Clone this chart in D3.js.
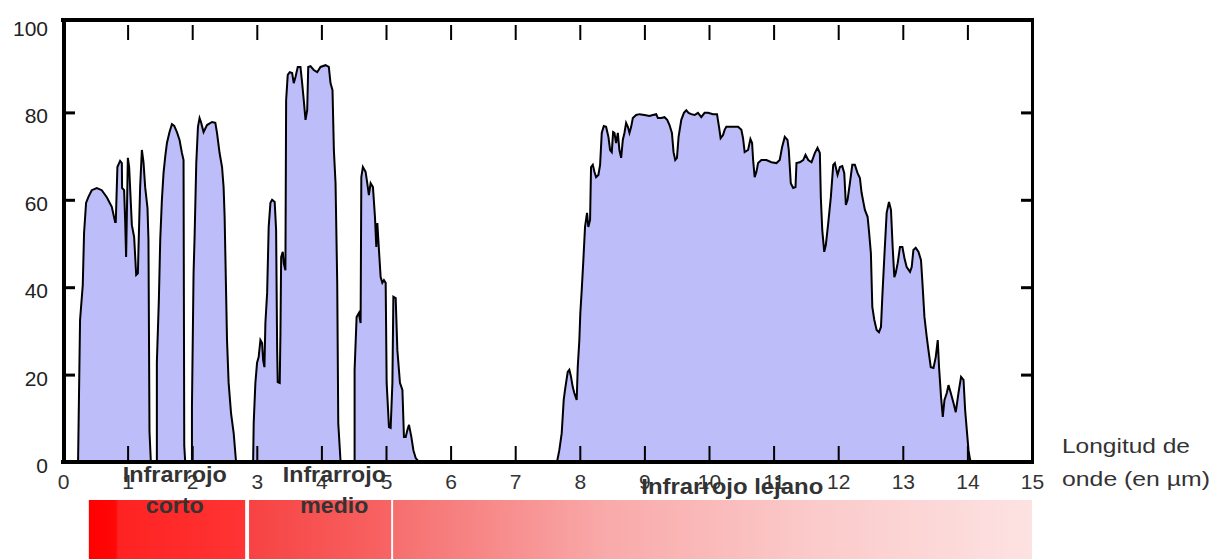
<!DOCTYPE html>
<html><head><meta charset="utf-8">
<script src="https://cdn.jsdelivr.net/npm/d3@7"></script>
<style>body{margin:0;background:#fff;overflow:hidden}svg{display:block}</style>
</head><body>
<svg id="chart" width="1221" height="559"></svg>
<script>
// Transmission bands: [wavelength µm, transmission %]
const band1 = [[0.233,0],[0.264,32.5],[0.306,40.5],[0.326,52.4],[0.357,59.3],[0.392,60.6],[0.445,62.2],[0.523,62.7],[0.600,62.2],[0.678,60.6],[0.755,58.4],[0.807,54.9],[0.817,54.9],[0.842,67.5],[0.884,68.9],[0.911,68.4],[0.915,62.7],[0.946,62.2],[0.962,55.4],[0.977,46.9],[1.004,69.6],[1.024,67.5],[1.039,62.7],[1.066,54.2],[1.101,51.5],[1.133,42.8],[1.159,43.2],[1.179,54.7],[1.194,62.9],[1.221,71.4],[1.246,68.6],[1.272,62.9],[1.308,58.1],[1.323,50.8],[1.339,6.9],[1.360,0]];
const band2 = [[1.453,0],[1.453,22.9],[1.484,37.1],[1.505,50.8],[1.531,60.0],[1.556,66.1],[1.582,69.8],[1.609,73.0],[1.649,75.5],[1.686,77.3],[1.722,76.9],[1.764,75.5],[1.804,73.7],[1.841,70.7],[1.866,69.1],[1.877,3.7],[1.892,0]];
const band3 = [[1.996,0],[1.996,12.4],[2.021,43.2],[2.037,51.5],[2.063,68.4],[2.089,76.7],[2.114,78.7],[2.136,77.8],[2.176,75.5],[2.229,77.1],[2.307,77.8],[2.358,77.6],[2.384,75.3],[2.424,70.7],[2.462,67.5],[2.486,62.9],[2.502,56.1],[2.539,27.9],[2.564,18.1],[2.601,11.2],[2.642,6.6],[2.679,0]];
const band4 = [[2.943,0],[2.952,8.9],[2.978,18.1],[3.004,22.7],[3.029,24.0],[3.056,27.9],[3.082,27.2],[3.098,23.3],[3.118,21.7],[3.133,31.8],[3.160,38.7],[3.184,53.8],[3.211,59.3],[3.237,60.0],[3.277,59.5],[3.299,53.1],[3.315,25.6],[3.324,18.3],[3.355,18.1],[3.366,29.5],[3.377,46.9],[3.402,48.1],[3.417,45.5],[3.443,43.9],[3.454,82.8],[3.479,88.6],[3.510,89.2],[3.547,89.0],[3.572,86.7],[3.599,88.1],[3.634,90.4],[3.676,90.4],[3.702,86.7],[3.727,82.8],[3.754,78.3],[3.780,80.5],[3.796,90.4],[3.831,90.6],[3.882,89.7],[3.935,89.2],[3.986,90.4],[4.064,90.8],[4.115,90.4],[4.141,86.7],[4.172,85.1],[4.193,71.4],[4.219,63.8],[4.245,40.9],[4.261,8.9],[4.297,0]];
const band5 = [[4.514,0],[4.514,21.1],[4.545,33.2],[4.580,34.1],[4.607,31.8],[4.618,65.2],[4.642,67.5],[4.684,66.4],[4.710,63.8],[4.735,61.1],[4.762,63.8],[4.798,62.9],[4.829,56.1],[4.850,49.2],[4.866,54.7],[4.891,48.5],[4.917,42.3],[4.943,41.0],[4.968,41.6],[4.995,41.0],[5.010,18.1],[5.046,8.0],[5.072,7.8],[5.099,18.1],[5.114,37.8],[5.150,37.5],[5.176,25.6],[5.216,18.1],[5.254,16.5],[5.278,5.7],[5.305,5.7],[5.331,7.3],[5.356,8.5],[5.393,5.7],[5.424,2.7],[5.460,0.9],[5.511,0]];
const band6 = [[7.647,0],[7.683,2.7],[7.720,6.6],[7.751,14.2],[7.771,16.5],[7.813,20.6],[7.838,21.1],[7.864,19.5],[7.890,17.2],[7.915,15.8],[7.952,14.2],[7.968,21.7],[7.993,27.9],[8.008,34.1],[8.030,39.4],[8.055,46.2],[8.081,53.8],[8.112,57.0],[8.132,53.8],[8.159,55.4],[8.174,67.5],[8.201,68.0],[8.226,66.4],[8.252,65.2],[8.288,65.7],[8.314,68.0],[8.340,75.3],[8.371,76.9],[8.407,76.7],[8.443,74.4],[8.469,71.4],[8.495,70.9],[8.516,75.5],[8.536,75.3],[8.562,73.0],[8.589,75.3],[8.613,71.4],[8.640,69.6],[8.666,73.7],[8.691,75.3],[8.717,77.6],[8.744,76.7],[8.769,75.3],[8.795,76.7],[8.821,78.7],[8.872,79.4],[8.924,79.6],[9.001,79.4],[9.079,79.2],[9.131,79.4],[9.183,79.6],[9.209,78.7],[9.260,78.7],[9.311,78.9],[9.353,78.3],[9.389,77.1],[9.426,75.3],[9.451,70.9],[9.477,69.1],[9.504,69.6],[9.529,74.4],[9.571,78.3],[9.612,79.9],[9.648,80.5],[9.684,79.9],[9.726,79.6],[9.777,79.4],[9.829,79.9],[9.880,78.9],[9.932,79.9],[9.985,79.9],[10.062,79.6],[10.124,79.6],[10.155,76.7],[10.180,74.1],[10.217,74.8],[10.242,76.0],[10.268,76.7],[10.320,76.7],[10.372,76.7],[10.450,76.7],[10.501,76.0],[10.527,74.1],[10.552,70.9],[10.605,71.4],[10.641,73.9],[10.667,73.0],[10.683,69.1],[10.707,65.2],[10.734,66.4],[10.760,68.4],[10.811,69.1],[10.889,69.1],[10.966,68.6],[11.044,68.4],[11.095,69.1],[11.132,72.1],[11.173,74.4],[11.215,73.7],[11.235,71.4],[11.266,63.8],[11.303,62.7],[11.339,62.9],[11.354,68.4],[11.405,68.6],[11.458,69.1],[11.494,70.3],[11.536,69.1],[11.587,68.6],[11.638,70.7],[11.680,71.9],[11.716,70.7],[11.731,60.6],[11.753,53.1],[11.784,48.1],[11.809,49.7],[11.846,54.7],[11.886,60.6],[11.923,68.0],[11.948,68.4],[11.990,65.7],[12.026,67.5],[12.063,67.7],[12.094,66.1],[12.119,58.8],[12.145,60.0],[12.181,63.8],[12.218,68.0],[12.258,68.0],[12.300,66.1],[12.336,65.0],[12.362,61.6],[12.413,57.7],[12.455,56.1],[12.475,53.1],[12.506,47.8],[12.528,35.5],[12.559,32.5],[12.595,30.2],[12.631,29.7],[12.662,30.9],[12.683,37.8],[12.714,46.9],[12.750,57.0],[12.786,59.5],[12.817,57.7],[12.843,49.2],[12.869,42.3],[12.890,43.2],[12.921,45.5],[12.956,49.2],[12.994,49.2],[13.025,46.7],[13.060,44.6],[13.112,43.5],[13.138,44.6],[13.164,48.5],[13.200,49.0],[13.242,48.1],[13.282,46.2],[13.304,41.0],[13.335,33.2],[13.371,28.6],[13.397,25.6],[13.433,21.7],[13.475,21.5],[13.510,24.0],[13.541,27.9],[13.561,21.7],[13.592,14.9],[13.619,10.3],[13.645,14.2],[13.681,15.8],[13.707,17.6],[13.743,15.8],[13.785,13.5],[13.820,11.4],[13.862,15.8],[13.902,19.5],[13.940,18.8],[13.965,11.9],[13.991,7.3],[14.017,2.7],[14.042,0.5],[14.069,0]];
const bands = [band1, band2, band3, band4, band5, band6];

const xTickLabels = [0,1,2,3,4,5,6,7,8,9,10,11,12,13,14,15];
const xInnerTicks = [1,2,3,4,5,6,7,8,9,10,11,12,13,14];
const yTickLabels = [0,20,40,60,80,100];
const yInnerTicks = [20,40,60,80];

// Spectral regions: [from µm, to µm], label lines, label centre µm
const regionNames = [["Infrarrojo","corto"],["Infrarrojo","medio"],["Infrarrojo lejano"]];
const regionFrom = [0.40, 2.88, 5.11];
const regionTo = [2.82, 5.08, 15];
const regionLabelAt = [1.73, 4.20, 10.36];
const axisTitle = ["Longitud de","onde (en µm)"];

const svg = d3.select("#chart");
const x = d3.scaleLinear().domain([0,15]).range([63,1032]);
const y = d3.scaleLinear().domain([0,100]).range([462,25]);
const FONT = "'Liberation Sans', Arial, sans-serif";
const NARROW = "'Liberation Sans Narrow', 'Arial Narrow', 'Liberation Sans', Arial, sans-serif";

// gradients for region bar
const defs = svg.append("defs");
const grads = [
  [[0,"#ff0000"],[0.17,"#ff0808"],[0.19,"#ff2222"],[1,"#ff3434"]],
  [[0,"#f74242"],[1,"#f86464"]],
  [[0,"#f66e6e"],[0.33,"#f9a9a9"],[0.66,"#fbcaca"],[1,"#fde2e2"]]
];
grads.forEach((stops,i)=>{
  const g = defs.append("linearGradient").attr("id","rg"+i).attr("x1","0%").attr("x2","100%").attr("y1","0%").attr("y2","0%");
  stops.forEach(s=>g.append("stop").attr("offset",s[0]).attr("stop-color",s[1]));
});

// region bars
svg.append("g").selectAll("rect").data(regionFrom).join("rect")
  .attr("x",(d)=>x(d)).attr("y",500)
  .attr("width",(d,i)=>x(regionTo[i])-x(d)).attr("height",59)
  .attr("fill",(d,i)=>`url(#rg${i})`);

// area + line
const area = d3.area().x(d=>x(d[0])).y0(y(0)).y1(d=>y(d[1]));
const line = d3.line().x(d=>x(d[0])).y(d=>y(d[1]));
const gData = svg.append("g");
gData.selectAll("path.a").data(bands).join("path").attr("class","a")
  .attr("d",area).attr("fill","#bdbdf9");
gData.selectAll("path.l").data(bands).join("path").attr("class","l")
  .attr("d",line).attr("fill","none").attr("stroke","#000").attr("stroke-width",2).attr("stroke-linejoin","miter");

// inner ticks
function styleTicks(g, w){ g.select(".domain").remove(); g.selectAll(".tick line").attr("stroke","#000").attr("stroke-width",w); }
svg.append("g").attr("transform","translate(0,460)")
  .call(d3.axisTop(x).tickValues(xInnerTicks).tickSize(14).tickFormat(""))
  .call(g=>styleTicks(g,2));
svg.append("g").attr("transform","translate(0,25)")
  .call(d3.axisBottom(x).tickValues(xInnerTicks).tickSize(15).tickFormat(""))
  .call(g=>styleTicks(g,2));
svg.append("g").attr("transform","translate(65,0)")
  .call(d3.axisRight(y).tickValues(yInnerTicks).tickSize(10).tickFormat(""))
  .call(g=>styleTicks(g,3));
svg.append("g").attr("transform","translate(1031,0)")
  .call(d3.axisLeft(y).tickValues(yInnerTicks).tickSize(10).tickFormat(""))
  .call(g=>styleTicks(g,3));

// frame
const fr = svg.append("g").attr("stroke","#000").attr("fill","none");
fr.append("line").attr("x1",61).attr("x2",1034).attr("y1",20).attr("y2",20).attr("stroke-width",4);
fr.append("line").attr("x1",1032.5).attr("x2",1032.5).attr("y1",18).attr("y2",464).attr("stroke-width",3);
fr.append("line").attr("x1",61).attr("x2",1034).attr("y1",462).attr("y2",462).attr("stroke-width",4);
fr.append("line").attr("x1",64).attr("x2",64).attr("y1",18).attr("y2",464).attr("stroke-width",4);

// tick labels
svg.append("g").attr("transform","translate(0,462)")
  .call(d3.axisBottom(x).tickValues(xTickLabels).tickSize(0).tickPadding(12))
  .call(g=>{g.select(".domain").remove();
    g.selectAll("text").attr("font-family",FONT).attr("font-size",21).attr("fill","#333");});
svg.append("g").attr("transform","translate(63,0)")
  .call(d3.axisLeft(y).tickValues(yTickLabels).tickSize(0).tickPadding(15))
  .call(g=>{g.select(".domain").remove();
    g.selectAll("text").attr("font-family",FONT).attr("font-size",21).attr("fill","#222").attr("dy","0.5em");});

// region labels
const widths = [[104,58],[103,68],[182]];
const baselines = [[482,513],[482,513],[494]];
regionNames.forEach((lines,i)=>{
  lines.forEach((t,j)=>{
    svg.append("text").attr("x",x(regionLabelAt[i])-widths[i][j]/2).attr("y",baselines[i][j])
      .attr("font-family",NARROW).attr("font-weight","bold").attr("font-size",22)
      .attr("fill","#333")
      .attr("textLength",widths[i][j]).attr("lengthAdjust","spacingAndGlyphs")
      .text(t);
  });
});

// axis title
const tl = [128,148];
axisTitle.forEach((t,i)=>{
  svg.append("text").attr("x",1062).attr("y",453+i*33)
    .attr("font-family",FONT).attr("font-size",21).attr("fill","#333")
    .attr("textLength",tl[i]).attr("lengthAdjust","spacingAndGlyphs").text(t);
});
</script>
</body></html>
